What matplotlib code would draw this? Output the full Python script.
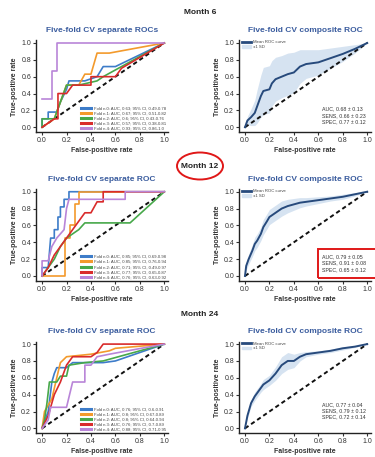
import numpy as np
import matplotlib
matplotlib.use("Agg")
import matplotlib.pyplot as plt
from matplotlib.patches import Ellipse, Rectangle, Patch
from matplotlib.lines import Line2D

plt.rcParams['font.family'] = ['Liberation Sans', 'DejaVu Sans']

# ---- data ----
months = ["Month 6", "Month 12", "Month 24"]
left_titles = ["Five-fold CV separate ROCs", "Five-fold CV separate ROC", "Five-fold CV separate ROC"]

fold_colors = ["#3d7cc9", "#f39a2c", "#47a84a", "#d92b2b", "#b985d8"]

# month 6 folds (fpr, tpr)
m6_f0_x = [0, 0, 0.05, 0.05, 0.12, 0.15, 0.2, 0.22, 0.35, 0.45, 0.5, 0.6, 1.0]
m6_f0_y = [0, 0.1, 0.1, 0.18, 0.18, 0.3, 0.45, 0.55, 0.55, 0.6, 0.72, 0.72, 1.0]
m6_f1_x = [0, 0.05, 0.1, 0.15, 0.2, 0.3, 0.35, 0.4, 0.45, 0.55, 1.0]
m6_f1_y = [0, 0.05, 0.1, 0.3, 0.5, 0.5, 0.63, 0.63, 0.88, 0.88, 1.0]
m6_f2_x = [0, 0, 0.1, 0.15, 0.2, 0.3, 0.45, 0.5, 1.0]
m6_f2_y = [0, 0.1, 0.1, 0.3, 0.5, 0.5, 0.55, 0.6, 1.0]
m6_f3_x = [0, 0.1, 0.13, 0.13, 0.2, 0.25, 0.4, 0.4, 0.6, 0.65, 1.0]
m6_f3_y = [0, 0.1, 0.1, 0.4, 0.4, 0.5, 0.5, 0.6, 0.6, 0.7, 1.0]
m6_f4_x = [0, 0.08, 0.08, 0.12, 0.12, 1.0]
m6_f4_y = [0.33, 0.33, 0.67, 0.67, 1.0, 1.0]

# month 12 folds
m12_f0_x = [0, 0, 0.05, 0.07, 0.1, 0.1, 0.13, 0.13, 0.15, 0.15, 0.18, 0.18, 0.22, 0.22, 1.0]
m12_f0_y = [0, 0.1, 0.1, 0.45, 0.45, 0.55, 0.55, 0.7, 0.7, 0.82, 0.82, 0.91, 0.91, 1.0, 1.0]
m12_f1_x = [0, 0.19, 0.19, 0.23, 0.23, 0.27, 0.27, 0.3, 0.3, 1.0]
m12_f1_y = [0, 0, 0.45, 0.45, 0.6, 0.6, 0.85, 0.85, 1.0, 1.0]
m12_f2_x = [0, 0.05, 0.1, 0.15, 0.2, 0.25, 0.3, 0.35, 0.72, 1.0]
m12_f2_y = [0, 0.1, 0.2, 0.35, 0.45, 0.5, 0.55, 0.63, 0.63, 1.0]
m12_f3_x = [0, 0.05, 0.1, 0.15, 0.2, 0.25, 0.3, 0.35, 0.4, 0.45, 0.5, 0.5, 1.0]
m12_f3_y = [0, 0.1, 0.25, 0.35, 0.45, 0.55, 0.65, 0.75, 0.75, 0.88, 0.88, 1.0, 1.0]
m12_f4_x = [0, 0, 0.05, 0.08, 0.12, 0.18, 0.2, 0.22, 0.68, 0.68, 1.0]
m12_f4_y = [0, 0.18, 0.18, 0.35, 0.45, 0.55, 0.8, 0.91, 0.91, 1.0, 1.0]

# month 24 folds
m24_f0_x = [0, 0.05, 0.08, 0.1, 0.12, 0.2, 0.25, 0.5, 0.6, 1.0]
m24_f0_y = [0, 0.2, 0.55, 0.65, 0.72, 0.72, 0.78, 0.78, 0.8, 1.0]
m24_f1_x = [0, 0.02, 0.08, 0.12, 0.15, 0.2, 0.4, 0.55, 0.6, 1.0]
m24_f1_y = [0, 0.2, 0.35, 0.6, 0.78, 0.85, 0.88, 0.92, 0.95, 1.0]
m24_f2_x = [0, 0.02, 0.04, 0.06, 0.12, 0.15, 0.2, 0.22, 0.35, 0.5, 1.0]
m24_f2_y = [0, 0.1, 0.3, 0.55, 0.55, 0.62, 0.62, 0.75, 0.78, 0.8, 1.0]
m24_f3_x = [0, 0.05, 0.1, 0.15, 0.2, 0.25, 0.4, 0.45, 0.5, 1.0]
m24_f3_y = [0, 0.15, 0.4, 0.55, 0.75, 0.85, 0.85, 0.9, 1.0, 1.0]
m24_f4_x = [0, 0.05, 0.07, 0.2, 0.25, 0.35, 0.35, 0.4, 0.45, 0.55, 1.0]
m24_f4_y = [0, 0.1, 0.25, 0.25, 0.55, 0.55, 0.75, 0.75, 0.85, 0.88, 1.0]

folds = [
    [(m6_f0_x, m6_f0_y), (m6_f1_x, m6_f1_y), (m6_f2_x, m6_f2_y), (m6_f3_x, m6_f3_y), (m6_f4_x, m6_f4_y)],
    [(m12_f0_x, m12_f0_y), (m12_f1_x, m12_f1_y), (m12_f2_x, m12_f2_y), (m12_f3_x, m12_f3_y), (m12_f4_x, m12_f4_y)],
    [(m24_f0_x, m24_f0_y), (m24_f1_x, m24_f1_y), (m24_f2_x, m24_f2_y), (m24_f3_x, m24_f3_y), (m24_f4_x, m24_f4_y)],
]

fold_labels = [
    ["Fold n.0: AUC, 0.63; 95% CI, 0.49-0.78",
     "Fold n.1: AUC, 0.67; 95% CI, 0.51-0.82",
     "Fold n.2: AUC, 0.6; 95% CI, 0.43-0.76",
     "Fold n.3: AUC, 0.57; 95% CI, 0.38-0.81",
     "Fold n.4: AUC, 0.93; 95% CI, 0.86-1.0"],
    ["Fold n.0: AUC, 0.85; 95% CI, 0.69-0.98",
     "Fold n.1: AUC, 0.85; 95% CI, 0.76-0.94",
     "Fold n.2: AUC, 0.71; 95% CI, 0.49-0.97",
     "Fold n.3: AUC, 0.77; 95% CI, 0.65-0.87",
     "Fold n.4: AUC, 0.76; 95% CI, 0.63-0.92"],
    ["Fold n.0: AUC, 0.76; 95% CI, 0.6-0.91",
     "Fold n.1: AUC, 0.8; 95% CI, 0.67-0.89",
     "Fold n.2: AUC, 0.8; 95% CI, 0.64-0.94",
     "Fold n.3: AUC, 0.76; 95% CI, 0.7-0.89",
     "Fold n.4: AUC, 0.88; 95% CI, 0.71-0.95"],
]

# composite ROC (mean +/- 1 SD)
m6_fpr = [0, 0.02, 0.05, 0.08, 0.1, 0.13, 0.15, 0.2, 0.22, 0.25, 0.3, 0.35, 0.4, 0.45, 0.5, 0.6, 0.7, 0.8, 0.9, 1.0]
m6_mean = [0, 0.08, 0.12, 0.17, 0.25, 0.37, 0.43, 0.45, 0.52, 0.57, 0.6, 0.63, 0.65, 0.72, 0.75, 0.77, 0.82, 0.87, 0.93, 1.0]
m6_sd = [0, 0.05, 0.1, 0.15, 0.2, 0.25, 0.28, 0.28, 0.27, 0.26, 0.25, 0.25, 0.24, 0.2, 0.17, 0.15, 0.12, 0.09, 0.05, 0]

m12_fpr = [0, 0.01, 0.03, 0.06, 0.08, 0.1, 0.13, 0.15, 0.18, 0.2, 0.25, 0.3, 0.35, 0.4, 0.45, 0.5, 0.6, 0.7, 0.8, 0.9, 1.0]
m12_mean = [0, 0.12, 0.2, 0.3, 0.38, 0.42, 0.5, 0.58, 0.65, 0.7, 0.75, 0.8, 0.83, 0.85, 0.87, 0.88, 0.9, 0.92, 0.94, 0.97, 1.0]
m12_sd = [0, 0.05, 0.06, 0.07, 0.08, 0.08, 0.08, 0.09, 0.09, 0.09, 0.09, 0.09, 0.08, 0.07, 0.06, 0.05, 0.04, 0.03, 0.03, 0.02, 0]

m24_fpr = [0, 0.02, 0.05, 0.08, 0.1, 0.13, 0.15, 0.2, 0.25, 0.3, 0.35, 0.4, 0.45, 0.5, 0.6, 0.7, 0.8, 0.9, 1.0]
m24_mean = [0, 0.15, 0.3, 0.38, 0.42, 0.48, 0.52, 0.57, 0.65, 0.75, 0.8, 0.8, 0.85, 0.88, 0.9, 0.92, 0.95, 0.97, 1.0]
m24_sd = [0, 0.03, 0.04, 0.05, 0.05, 0.05, 0.06, 0.06, 0.08, 0.1, 0.1, 0.08, 0.05, 0.03, 0.02, 0.02, 0.02, 0.01, 0]

composite = [(m6_fpr, m6_mean, m6_sd), (m12_fpr, m12_mean, m12_sd), (m24_fpr, m24_mean, m24_sd)]

stats = [
    "AUC, 0.68 \u00b1 0.13\nSENS, 0.66 \u00b1 0.23\nSPEC, 0.77 \u00b1 0.12",
    "AUC, 0.79 \u00b1 0.05\nSENS, 0.91 \u00b1 0.08\nSPEC, 0.65 \u00b1 0.12",
    "AUC, 0.77 \u00b1 0.04\nSENS, 0.79 \u00b1 0.12\nSPEC, 0.72 \u00b1 0.14",
]

# ---- figure ----
W, H = 375, 457
fig = plt.figure(figsize=(W / 100, H / 100), dpi=100)

title_col = "#3a5c9e"
mean_col = "#274a7c"
band_col = "#d6e3f1"

row_bottoms = [0.7105, 0.385, 0.0516]
row_h = 0.201
col_lefts = [0.0959, 0.637]
col_w = 0.352
stats_y = [0.245, 0.255, 0.315]


def style_ax(ax):
    ax.set_xlim(-0.05, 1.03)
    ax.set_ylim(-0.06, 1.03)
    ax.set_xticks([0, 0.2, 0.4, 0.6, 0.8, 1.0])
    ax.set_yticks([0, 0.2, 0.4, 0.6, 0.8, 1.0])
    ax.xaxis.set_major_formatter(plt.FormatStrFormatter('%.1f'))
    ax.yaxis.set_major_formatter(plt.FormatStrFormatter('%.1f'))
    for s in ['top', 'right']:
        ax.spines[s].set_visible(False)
    for s in ['left', 'bottom']:
        ax.spines[s].set_linewidth(1.0)
        ax.spines[s].set_color('#222222')
    ax.tick_params(length=2, width=0.8, labelsize=5, pad=1.5, colors='#333333')
    ax.set_xlabel("False-positive rate", fontsize=5, fontweight='bold', labelpad=2, color='#333333')
    ax.set_ylabel("True-positive rate", fontsize=5, fontweight='bold', labelpad=2, color='#333333')
    ax.plot([0, 1], [0, 1], color='#111111', lw=1.4, ls=(0, (2.2, 1.6)), zorder=1)


for r in range(3):
    # separate folds
    ax = fig.add_axes([col_lefts[0], row_bottoms[r], col_w, row_h])
    style_ax(ax)
    handles = []
    for k, (fx, fy) in enumerate(folds[r]):
        ax.plot(fx, fy, color=fold_colors[k], lw=1.2, zorder=2 + k)
        handles.append(Line2D([0], [0], color=fold_colors[k], lw=2.2))
    ax.set_title(left_titles[r], fontsize=6, fontweight='bold', color=title_col, pad=6)
    ax.legend(handles, fold_labels[r], loc='lower left', bbox_to_anchor=(0.34, 0.02),
              frameon=False, fontsize=3.1, handlelength=2.4, handletextpad=0.6,
              labelspacing=0.25, borderpad=0, borderaxespad=0, labelcolor='#444444')

    # composite
    ax = fig.add_axes([col_lefts[1], row_bottoms[r], col_w, row_h])
    style_ax(ax)
    fpr, mean, sd = composite[r]
    mean = np.array(mean)
    sd = np.array(sd)
    lo = np.clip(mean - sd, 0, 1)
    hi = np.clip(mean + sd, 0, 1)
    ax.fill_between(fpr, lo, hi, color=band_col, lw=0, zorder=0)
    ax.plot(fpr, mean, color=mean_col, lw=1.4, zorder=3)
    ax.set_title("Five-fold CV composite ROC", fontsize=6, fontweight='bold', color=title_col, pad=6)
    ax.legend([Line2D([0], [0], color=mean_col, lw=2.0), Patch(color=band_col)],
              ["Mean ROC curve", "\u00b11 SD"], loc='upper left', bbox_to_anchor=(0.02, 1.0),
              frameon=False, fontsize=3.1, handlelength=2.2, handleheight=0.6,
              handletextpad=0.5, labelspacing=0.2, borderpad=0, borderaxespad=0,
              labelcolor='#444444')
    ax.text(0.63, stats_y[r], stats[r], transform=ax.transData, fontsize=3.8, color='#333333',
            va='top', ha='left', linespacing=1.3, clip_on=False)

# month labels
month_y = [13, 166, 314]
for r in range(3):
    fig.text(200 / W, 1 - month_y[r] / H, months[r], fontsize=6, fontweight='bold',
             ha='center', va='center', color='#222222')

# red highlight marks
fig.patches.append(Ellipse((200 / W, 1 - 166 / H), 46 / W, 27 / H, transform=fig.transFigure,
                           fill=False, edgecolor='#e01818', lw=1.4))
fig.patches.append(Rectangle((318 / W, 1 - 278 / H), 60 / W, 29 / H, transform=fig.transFigure,
                             fill=False, edgecolor='#e01818', lw=1.4))

fig.savefig("out.png", dpi=100)
